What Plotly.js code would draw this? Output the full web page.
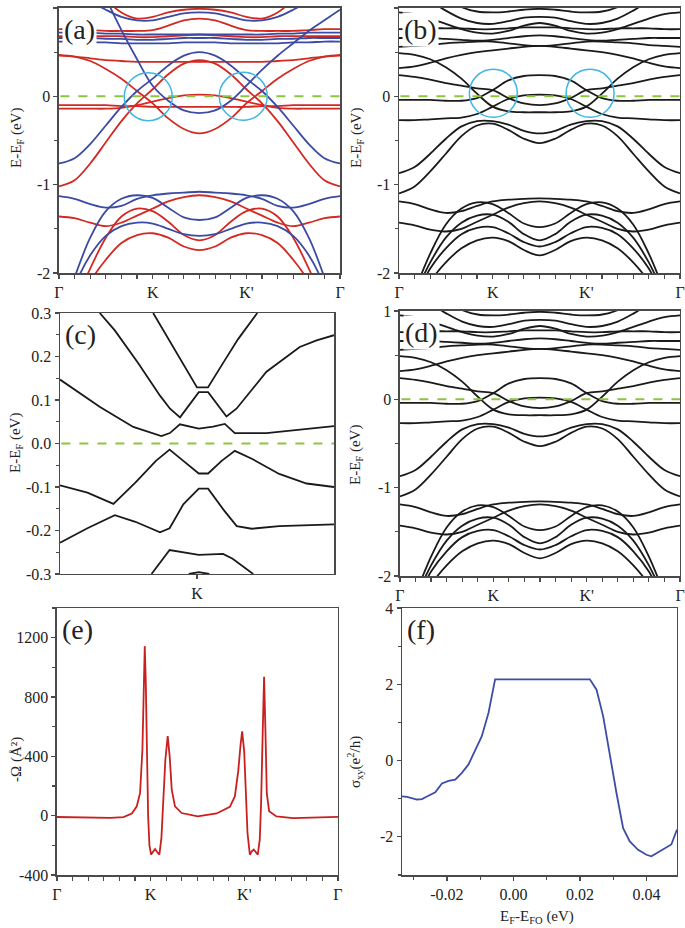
<!DOCTYPE html>
<html>
<head>
<meta charset="utf-8">
<script src="https://cdn.plot.ly/plotly-3.0.1.min.js"></script>
<style>
  body { margin: 0; background: #fff; }
  #chart { width: 685px; height: 928px; }
</style>
</head>
<body>
<div id="chart"></div>
<script>
// k-path Γ-K-M-K'-Γ, sampled every 1/6
var kPath = [0,0.1667,0.3333,0.5,0.6667,0.8333,1,1.1667,1.3333,1.5,1.6667,1.8333,2,2.1667,2.3333,2.5,2.6667,2.8333,3]
var kTicks = ['Γ','','','','','','K','','','','','',"K'",'','','','','','Γ']

// (a) spin-resolved bands (red / blue)
var aRed1 = [-2.8,-2.5,-2.1,-1.85,-1.66,-1.57,-1.55,-1.6,-1.7,-1.74,-1.7,-1.6,-1.55,-1.57,-1.66,-1.85,-2.1,-2.5,-2.8]
var aRed2 = [-2.7,-2.35,-1.95,-1.6,-1.36,-1.27,-1.3,-1.42,-1.57,-1.63,-1.57,-1.42,-1.3,-1.27,-1.36,-1.6,-1.95,-2.35,-2.7]
var aRed3 = [-1.36,-1.38,-1.43,-1.47,-1.43,-1.35,-1.27,-1.19,-1.14,-1.12,-1.14,-1.19,-1.27,-1.35,-1.43,-1.47,-1.43,-1.38,-1.36]
var aRed4 = [-1.02,-0.95,-0.76,-0.52,-0.28,-0.08,0.08,0.25,0.37,0.41,0.37,0.25,0.08,-0.08,-0.28,-0.52,-0.76,-0.95,-1.02]
var aRed5 = [0.47,0.45,0.4,0.31,0.2,0.06,-0.08,-0.25,-0.37,-0.42,-0.37,-0.25,-0.08,0.06,0.2,0.31,0.4,0.45,0.47]
var aRed6 = [0.46,0.45,0.43,0.41,0.4,0.39,0.39,0.39,0.39,0.39,0.39,0.39,0.39,0.39,0.4,0.41,0.43,0.45,0.46]
var aRed7 = [-0.1,-0.1,-0.1,-0.1,-0.11,-0.11,-0.12,-0.12,-0.12,-0.12,-0.12,-0.12,-0.12,-0.11,-0.11,-0.1,-0.1,-0.1,-0.1]
var aRed8 = [-0.14,-0.14,-0.14,-0.14,-0.13,-0.1,-0.06,-0.02,0.01,0.02,0.01,-0.02,-0.06,-0.1,-0.13,-0.14,-0.14,-0.14,-0.14]
var aRed9 = [0.76,0.76,0.75,0.74,0.74,0.74,0.75,0.8,0.86,0.88,0.86,0.8,0.75,0.74,0.74,0.74,0.75,0.76,0.76]
var aRed10 = [0.68,0.68,0.68,0.68,0.68,0.67,0.67,0.68,0.69,0.7,0.69,0.68,0.67,0.67,0.68,0.68,0.68,0.68,0.68]
var aRed11 = [1.8,1.6,1.35,1.1,0.95,0.88,0.9,0.95,0.98,0.99,0.98,0.95,0.9,0.88,0.95,1.1,1.35,1.6,1.8]

var aBlue1 = [-2.6,-2.05,-1.6,-1.3,-1.16,-1.12,-1.15,-1.26,-1.37,-1.4,-1.37,-1.26,-1.15,-1.12,-1.16,-1.3,-1.6,-2.05,-2.6]
var aBlue2 = [-2.7,-2.15,-1.8,-1.58,-1.47,-1.43,-1.44,-1.5,-1.56,-1.58,-1.56,-1.5,-1.44,-1.43,-1.47,-1.58,-1.8,-2.15,-2.7]
var aBlue3 = [-1.13,-1.16,-1.22,-1.26,-1.24,-1.16,-1.12,-1.1,-1.09,-1.08,-1.09,-1.1,-1.12,-1.16,-1.24,-1.26,-1.22,-1.16,-1.13]
var aBlue4 = [-0.76,-0.7,-0.54,-0.33,-0.12,0.06,0.2,0.35,0.46,0.5,0.46,0.35,0.2,0.06,-0.12,-0.33,-0.54,-0.7,-0.76]
var aBlue5 = [2.4,2.0,1.6,1.12,0.75,0.42,0.12,-0.05,-0.16,-0.19,-0.16,-0.05,0.12,0.3,0.46,0.6,0.74,0.86,0.98]
var aBlue6 = [0.66,0.66,0.66,0.65,0.65,0.64,0.64,0.65,0.66,0.66,0.66,0.65,0.64,0.64,0.65,0.65,0.66,0.66,0.66]
var aBlue7 = [0.62,0.62,0.61,0.61,0.6,0.6,0.6,0.6,0.61,0.61,0.61,0.6,0.6,0.6,0.6,0.61,0.61,0.62,0.62]
var aBlue8 = [1.3,1.2,1.08,0.98,0.9,0.86,0.86,0.9,0.94,0.95,0.94,0.9,0.86,0.86,0.9,0.98,1.08,1.2,1.3]
var aBlue9 = [0.72,0.72,0.72,0.71,0.71,0.7,0.7,0.7,0.7,0.7,0.7,0.7,0.7,0.7,0.71,0.71,0.72,0.72,0.72]

// (b) and (d) bands
var bL6 = [-2.8,-2.45,-2.1,-1.88,-1.72,-1.63,-1.6,-1.64,-1.74,-1.8,-1.74,-1.64,-1.6,-1.63,-1.72,-1.88,-2.1,-2.45,-2.8]
var bL5 = [-2.7,-2.3,-1.95,-1.72,-1.56,-1.49,-1.48,-1.55,-1.65,-1.7,-1.65,-1.55,-1.48,-1.49,-1.56,-1.72,-1.95,-2.3,-2.7]
var bL4 = [-2.65,-2.25,-1.88,-1.6,-1.43,-1.35,-1.34,-1.42,-1.56,-1.63,-1.56,-1.42,-1.34,-1.35,-1.43,-1.6,-1.88,-2.25,-2.65]
var bL3 = [-2.6,-2.2,-1.78,-1.45,-1.27,-1.2,-1.22,-1.32,-1.44,-1.48,-1.44,-1.32,-1.22,-1.2,-1.27,-1.45,-1.78,-2.2,-2.6]
var bL2 = [-1.43,-1.46,-1.51,-1.53,-1.5,-1.42,-1.34,-1.26,-1.21,-1.19,-1.21,-1.26,-1.34,-1.42,-1.5,-1.53,-1.51,-1.46,-1.43]
var bL1 = [-1.19,-1.22,-1.28,-1.32,-1.3,-1.24,-1.19,-1.17,-1.16,-1.155,-1.16,-1.17,-1.19,-1.24,-1.3,-1.32,-1.28,-1.22,-1.19]
var bC2 = [-1.1,-1.02,-0.85,-0.65,-0.45,-0.33,-0.31,-0.38,-0.48,-0.53,-0.48,-0.38,-0.31,-0.33,-0.45,-0.65,-0.85,-1.02,-1.1]
var bC1 = [-0.87,-0.8,-0.65,-0.48,-0.34,-0.28,-0.28,-0.32,-0.39,-0.42,-0.39,-0.32,-0.28,-0.28,-0.34,-0.48,-0.65,-0.8,-0.87]
var bG1 = [-0.27,-0.27,-0.26,-0.25,-0.24,-0.2,-0.117,-0.03,0.01,0.02,0.01,-0.03,-0.117,-0.2,-0.24,-0.25,-0.26,-0.27,-0.27]
var bG2 = [0.24,0.22,0.19,0.15,0.12,0.09,0.07,-0.02,-0.08,-0.1,-0.08,-0.02,0.07,0.09,0.12,0.15,0.19,0.22,0.24]
var bG3 = [-0.04,-0.04,-0.04,-0.05,-0.05,-0.02,0.07,0.18,0.23,0.24,0.23,0.18,0.07,-0.02,-0.05,-0.05,-0.04,-0.04,-0.04]
var bG4 = [0.49,0.47,0.42,0.33,0.2,0.03,-0.117,-0.17,-0.18,-0.18,-0.18,-0.17,-0.117,0.03,0.2,0.33,0.42,0.47,0.49]
var bG5 = [0.32,0.34,0.38,0.43,0.47,0.5,0.52,0.54,0.56,0.57,0.56,0.54,0.52,0.5,0.47,0.43,0.38,0.34,0.32]
var bU1 = [0.56,0.57,0.58,0.6,0.61,0.62,0.62,0.6,0.58,0.57,0.58,0.6,0.62,0.62,0.61,0.6,0.58,0.57,0.56]
var bU2 = [0.66,0.66,0.66,0.65,0.64,0.63,0.64,0.66,0.68,0.69,0.68,0.66,0.64,0.63,0.64,0.65,0.66,0.66,0.66]
var bU3 = [0.76,0.76,0.77,0.77,0.77,0.76,0.76,0.77,0.78,0.78,0.78,0.77,0.76,0.76,0.77,0.77,0.77,0.76,0.76]
var bU4 = [0.95,0.93,0.88,0.82,0.76,0.72,0.71,0.74,0.8,0.83,0.8,0.74,0.71,0.72,0.76,0.82,0.88,0.93,0.95]
var bU5 = [1.3,1.2,1.08,0.97,0.88,0.83,0.82,0.85,0.89,0.9,0.89,0.85,0.82,0.83,0.88,0.97,1.08,1.2,1.3]
var bU6 = [1.6,1.45,1.28,1.12,1.01,0.96,0.95,0.96,0.98,0.99,0.98,0.96,0.95,0.96,1.01,1.12,1.28,1.45,1.6]

// (c) zoom around K (K at 0)
var cBand1X = [-0.32,-0.255,-0.2,-0.1,-0.02,0.0,0.08,0.12,0.2,0.3,0.44]
var cBand1Y = [0.3,0.265,0.235,0.18,0.14,0.129,0.129,0.15,0.19,0.24,0.3]
var cBand2X = [-0.71,-0.6,-0.43,-0.27,-0.197,-0.124,0.013,0.081,0.215,0.288,0.507,0.75,0.873,1]
var cBand2Y = [0.3,0.26,0.185,0.11,0.08,0.06,0.118,0.118,0.062,0.08,0.165,0.222,0.237,0.249]
var cBand3X = [-1,-0.708,-0.465,-0.26,-0.198,-0.125,0.013,0.118,0.203,0.276,0.507,1]
var cBand3Y = [0.147,0.084,0.038,0.017,0.024,0.044,0.034,0.039,0.045,0.024,0.024,0.04]
var cBand4X = [-1,-0.8,-0.61,-0.45,-0.3,-0.2,-0.1,0.013,0.081,0.18,0.276,0.4,0.6,0.8,1]
var cBand4Y = [-0.096,-0.113,-0.139,-0.09,-0.04,-0.014,-0.04,-0.069,-0.069,-0.04,-0.017,-0.035,-0.07,-0.092,-0.1]
var cBand5X = [-1,-0.8,-0.6,-0.45,-0.27,-0.2,-0.1,0.013,0.081,0.2,0.29,0.4,0.6,1]
var cBand5Y = [-0.228,-0.195,-0.165,-0.18,-0.204,-0.195,-0.14,-0.104,-0.104,-0.155,-0.19,-0.196,-0.19,-0.186]
var cBand6X = [-0.332,-0.2,0.013,0.19,0.26,0.41]
var cBand6Y = [-0.3,-0.245,-0.256,-0.254,-0.265,-0.3]
var cBand7X = [-0.06,0.013,0.09]
var cBand7Y = [-0.3,-0.296,-0.3]

// (e) Berry curvature along the path
var eK = [0,0.284,0.568,0.71,0.799,0.852,0.887,0.912,0.93,0.937,0.948,0.958,0.973,0.987,1.005,1.029,1.047,1.069,1.093,1.115,1.136,1.157,1.182,1.203,1.225,1.26,1.331,1.502,1.704,1.846,1.899,1.935,1.96,1.977,1.999,2.016,2.034,2.059,2.08,2.101,2.123,2.144,2.165,2.179,2.194,2.211,2.226,2.24,2.265,2.343,2.52,2.769,3]
var eOmega = [-9,-10,-15,-10,15,63,153,446,1008,1143,900,400,0,-200,-262,-240,-225,-245,-263,-150,108,378,536,400,176,63,18,-5,15,60,130,300,480,569,430,150,-117,-263,-240,-228,-245,-263,-160,80,500,936,560,150,30,-5,-16,-10,-8]

// (f) anomalous Hall conductivity
var fE = [-0.0335,-0.032,-0.029,-0.0275,-0.026,-0.0235,-0.0215,-0.0195,-0.0175,-0.0155,-0.0135,-0.0115,-0.0095,-0.0075,-0.0055,0.023,0.025,0.027,0.029,0.031,0.033,0.035,0.0375,0.04,0.0415,0.045,0.0475,0.0492]
var fSigma = [-0.94,-0.95,-1.02,-1.01,-0.94,-0.83,-0.6,-0.53,-0.5,-0.32,-0.1,0.25,0.64,1.25,2.13,2.13,1.86,1.16,0.11,-0.85,-1.77,-2.12,-2.34,-2.47,-2.51,-2.34,-2.2,-1.81]

var red = '#d22a22'
var blue = '#3b4aa3'
var black = '#1a1a1a'
var font = 'Liberation Serif, Times New Roman, serif'

var data = []

function addBands(list, color, xa, ya) {
  list.forEach(function (b) {
    data.push({x: kPath, y: b, xaxis: xa, yaxis: ya, mode: 'lines',
      line: {color: color, width: 1.8, shape: 'spline', smoothing: 1},
      hoverinfo: 'skip', showlegend: false})
  })
}

addBands([aRed1,aRed2,aRed3,aRed4,aRed5,aRed6,aRed7,aRed8,aRed9,aRed10,aRed11], red, 'x', 'y')
addBands([aBlue1,aBlue2,aBlue3,aBlue4,aBlue5,aBlue6,aBlue7,aBlue8,aBlue9], blue, 'x', 'y')

var bList = [bL6,bL5,bL4,bL3,bL2,bL1,bC2,bC1,bG1,bG2,bG3,bG4,bG5,bU1,bU2,bU3,bU4,bU5,bU6]
addBands(bList, black, 'x2', 'y2')
addBands(bList, black, 'x4', 'y4')

var cBands = [[cBand1X,cBand1Y],[cBand2X,cBand2Y],[cBand3X,cBand3Y],[cBand4X,cBand4Y],
  [cBand5X,cBand5Y],[cBand6X,cBand6Y],[cBand7X,cBand7Y]]
cBands.forEach(function (b) {
  data.push({x: b[0], y: b[1], xaxis: 'x3', yaxis: 'y3', mode: 'lines',
    line: {color: black, width: 1.8}, hoverinfo: 'skip', showlegend: false})
})

data.push({x: eK, y: eOmega, xaxis: 'x5', yaxis: 'y5', mode: 'lines',
  line: {color: '#c8201e', width: 1.8}, showlegend: false})
data.push({x: fE, y: fSigma, xaxis: 'x6', yaxis: 'y6', mode: 'lines',
  line: {color: '#3d4da5', width: 1.8}, showlegend: false})

function ax(extra) {
  return Object.assign({showline: true, mirror: true, linecolor: '#4a4a4a', linewidth: 1.5,
    ticks: 'outside', ticklen: 4, tickcolor: '#4a4a4a', tickwidth: 1.2,
    showgrid: false, zeroline: false,
    tickfont: {family: font, size: 16, color: '#222'}}, extra)
}
function kAxis(dom, anchor) {
  return ax({domain: dom, anchor: anchor, range: [0, 3], tickmode: 'array',
    tickvals: kPath, ticktext: kTicks})
}
function eAxis(dom, anchor) {
  return ax({domain: dom, anchor: anchor, range: [-2, 1], tickmode: 'array',
    tickvals: [-2,-1,0,1], ticktext: ['-2','-1','0','1'],
    minor: {dtick: 0.5, ticks: 'outside', ticklen: 3, tickcolor: '#4a4a4a'}})
}

var rowTop = [0.7058, 0.9914]
var rowMid = [0.3815, 0.6627]
var rowBot = [0.0571, 0.3448]

var layout = {
  width: 685, height: 928,
  margin: {l: 0, r: 0, t: 0, b: 0},
  paper_bgcolor: '#fff', plot_bgcolor: '#fff',
  font: {family: font, color: '#222'},
  xaxis: kAxis([0.0861, 0.4964], 'y'),
  yaxis: eAxis(rowTop, 'x'),
  xaxis2: kAxis([0.5825, 0.9927], 'y2'),
  yaxis2: eAxis(rowTop, 'x2'),
  xaxis3: ax({domain: [0.0876, 0.4876], anchor: 'y3', range: [-1, 1], tickmode: 'array',
    tickvals: [0], ticktext: ['K']}),
  yaxis3: ax({domain: rowMid, anchor: 'x3', range: [-0.3, 0.3], tickmode: 'array',
    tickvals: [-0.3,-0.2,-0.1,0,0.1,0.2,0.3],
    ticktext: ['-0.3','-0.2','-0.1','0.0','0.1','0.2','0.3'],
    minor: {dtick: 0.05, ticks: 'outside', ticklen: 3, tickcolor: '#4a4a4a'}}),
  xaxis4: kAxis([0.5839, 0.9927], 'y4'),
  yaxis4: eAxis([0.3793, 0.6649], 'x4'),
  xaxis5: kAxis([0.0832, 0.4934], 'y5'),
  yaxis5: ax({domain: rowBot, anchor: 'x5', range: [-400, 1400], tickmode: 'array',
    tickvals: [-400,0,400,800,1200], ticktext: ['-400','0','400','800','1200'],
    minor: {dtick: 200, ticks: 'outside', ticklen: 3, tickcolor: '#4a4a4a'}}),
  xaxis6: ax({domain: [0.5869, 0.9883], anchor: 'y6', range: [-0.0335, 0.0492], tickmode: 'array',
    tickvals: [-0.02,0,0.02,0.04], ticktext: ['-0.02','0.00','0.02','0.04'],
    minor: {dtick: 0.01, ticks: 'outside', ticklen: 3, tickcolor: '#4a4a4a'}}),
  yaxis6: ax({domain: rowBot, anchor: 'x6', range: [-3, 4], tickmode: 'array',
    tickvals: [-2,0,2,4], ticktext: ['-2','0','2','4'],
    minor: {dtick: 1, ticks: 'outside', ticklen: 3, tickcolor: '#4a4a4a'}}),
  shapes: [],
  annotations: []
}

// Fermi level dashed lines
;[['x','y'],['x2','y2'],['x3','y3'],['x4','y4']].forEach(function (p) {
  layout.shapes.push({type: 'line', xref: p[0] + ' domain', x0: 0.005, x1: 1, yref: p[1], y0: 0, y1: 0,
    line: {color: '#8cc63f', width: 2, dash: 'dash'}})
})

// cyan circles around the crossings
;[['x','y',0.953,-0.004],['x','y',1.967,0],['x2','y2',1.007,0.034],['x2','y2',2.04,0.034]].forEach(function (c) {
  layout.shapes.push({type: 'circle', xref: c[0], yref: c[1], xsizemode: 'pixel', ysizemode: 'pixel',
    xanchor: c[2], yanchor: c[3], x0: -24, x1: 24, y0: -24, y1: 24,
    line: {color: '#3fb6e3', width: 1.5}})
})

// panel letters
;[['(a)','x','y'],['(b)','x2','y2'],['(c)','x3','y3'],['(d)','x4','y4'],['(e)','x5','y5'],['(f)','x6','y6']].forEach(function (p) {
  layout.annotations.push({text: p[0], xref: p[1] + ' domain', yref: p[2] + ' domain', x: 0.012, y: 0.985,
    xanchor: 'left', yanchor: 'top', showarrow: false, bgcolor: '#fff', borderpad: 1,
    font: {family: font, size: 28, color: '#222'}})
})

// axis titles (centred on the given pixel position)
function yTitle(text, x, y) {
  layout.annotations.push({text: text, xref: 'paper', yref: 'paper', x: x / 685, y: 1 - y / 928,
    xanchor: 'center', yanchor: 'middle',
    textangle: -90, showarrow: false, font: {family: font, size: 15, color: '#222'}})
}
yTitle('E-E<sub>F</sub> (eV)', 17, 138)
yTitle('E-E<sub>F</sub> (eV)', 357, 138)
yTitle('E-E<sub>F</sub> (eV)', 16, 443)
yTitle('E-E<sub>F</sub> (eV)', 356, 455)
yTitle('-Ω (Å²)', 16, 759)
yTitle('σ<sub>xy</sub>(e<sup>2</sup>/h)', 355, 762)
layout.annotations.push({text: 'E<sub>F</sub>-E<sub>FO</sub> (eV)', xref: 'paper', yref: 'paper',
  x: 537 / 685, y: 1 - 917 / 928, xanchor: 'center', yanchor: 'middle', showarrow: false,
  font: {family: font, size: 15, color: '#222'}})

Plotly.newPlot('chart', data, layout, {staticPlot: true})
</script>
</body>
</html>
